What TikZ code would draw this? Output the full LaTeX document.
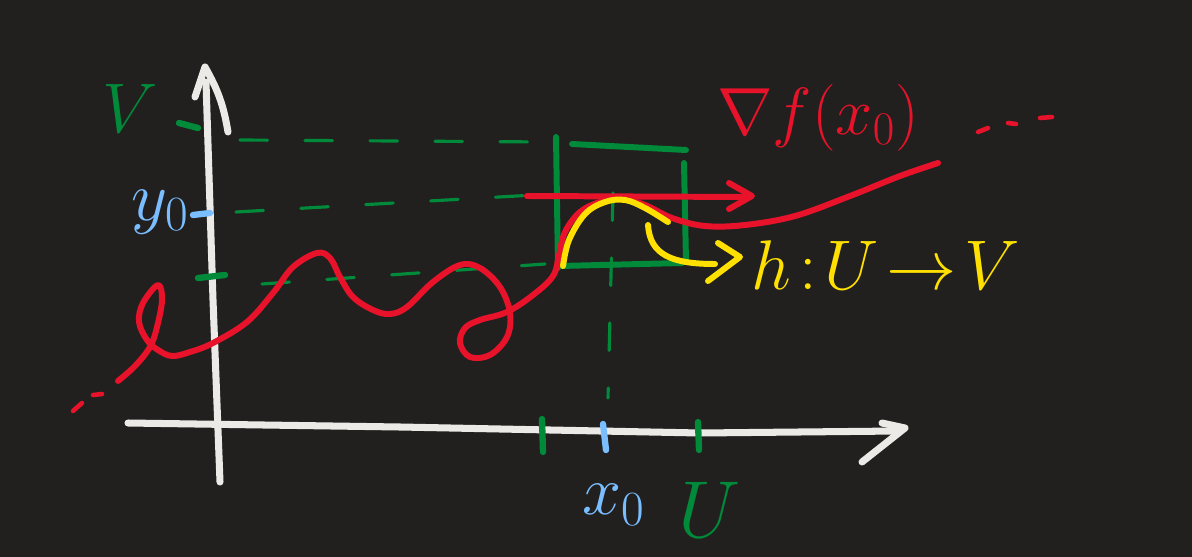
\RequirePackage{fix-cm}
\documentclass[tikz,border=0pt]{standalone}
\usepackage{amsmath}
\definecolor{board}{RGB}{33, 32, 31}
\definecolor{chalk}{RGB}{236, 234, 230}
\definecolor{inkRed}{RGB}{232, 19, 42}
\definecolor{inkGreen}{RGB}{0, 138, 58}
\definecolor{inkBlue}{RGB}{122, 190, 255}
\definecolor{inkYellow}{RGB}{255, 224, 0}
\usetikzlibrary{calc}

\begin{document}
\begin{tikzpicture}[x=0.02cm, y=-0.02cm, line cap=round, line join=round,
    axispen/.style={chalk, line width=4pt},
    redpen/.style={inkRed, line width=3.4pt},
    greenpen/.style={inkGreen, line width=3.4pt},
    guide/.style={inkGreen, line width=1.8pt, dash pattern=on 0.55cm off 0.75cm},
    yellowpen/.style={inkYellow, line width=3.4pt},
    tickpen/.style={line width=3.6pt}]
                \fill[board] (0,0) rectangle (1192,557);
                \useasboundingbox (0,0) rectangle (1192,557);

                % axes, arrow heads drawn as two strokes
                \draw[axispen] (220,482) -- (213,300) -- (206,82);
                \draw[axispen] (195,97) -- (205,67) to[bend left=10] (228,132);
                \draw[axispen] (128,423) -- (400,427) -- (700,433) -- (898,431);
                \draw[axispen] (882,423) -- (905,428) -- (862,462);

                % ticks on the axes
                \draw[inkGreen, tickpen] (179,123) -- (198,128);
                \draw[inkBlue, tickpen] (193,215) -- (210,213);
                \draw[inkGreen, tickpen] (198,278) -- (225,275);
                \draw[inkGreen, tickpen] (542,419) -- (543,452);
                \draw[inkBlue, tickpen] (603,424) -- (606,450);
                \draw[inkGreen, tickpen] (698,422) -- (699,450);

                % dashed guide lines
                \draw[guide] (240,140) -- (548,142);
                \draw[guide] (236,212) -- (552,194);
                \draw[guide] (262,284) -- (545,264);
                \draw[guide] (613,193) -- (608,398);

                % the box U x V
                \draw[greenpen] (556,137) -- (558,268);
                \draw[greenpen] (572,144) -- (686,150);
                \draw[greenpen] (684,163) -- (686,262);
                \draw[greenpen] (560,266) -- (682,263);

                % level curve
                \draw[redpen] plot[smooth, tension=0.6] coordinates {
                    (118,381) (135,366) (150,347) (157,327) (162,300) (158,285)
                    (143,303) (139,322) (147,340) (158,350) (172,356) (190,352)
                    (213,343) (247,322) (273,293) (293,267) (317,253) (330,258)
                    (340,277) (353,297) (373,310) (390,314) (407,307) (433,282)
                    (460,265) (480,268) (500,287) (510,313) (507,337) (490,355)
                    (470,357) (460,343) (465,328) (480,320) (507,312) (533,295)
                    (553,276) (559,255) (565,232) (580,212) (600,202) (622,199)
                    (645,205) (672,218) (705,226) (745,225) (795,216) (850,196)
                    (900,176) (938,163)};
                \draw[redpen, line width=2.6pt] (73,411) -- (82,403);
                \draw[redpen, line width=2.6pt] (93,395) -- (102,394);
                \draw[redpen, line width=2.6pt] (978,132) -- (988,128);
                \draw[redpen, line width=2.6pt] (1008,123) -- (1016,124);
                \draw[redpen, line width=2.6pt] (1040,118) -- (1052,117);

                % gradient arrow
                \draw[redpen] (527,196) -- (745,197);
                \draw[redpen] (729,183) -- (752,196) -- (729,209);

                % local graph h and its pointer
                \draw[yellowpen] plot[smooth, tension=0.6] coordinates {
                    (563,266) (569,240) (585,214) (605,202) (625,200) (645,208)
                    (668,222)};
                \draw[yellowpen] (648,225) .. controls (650,255) and (672,264) .. (715,264);
                \draw[yellowpen] (718,243) -- (740,257) -- (708,281);

                % labels
                \node[inkGreen, font=\fontsize{40}{46}\selectfont] (Vlab) at (130,108) {$V$};
                \node[inkBlue, font=\fontsize{40}{46}\selectfont] (ylab) at (160,212) {$y_0$};
                \node[inkBlue, font=\fontsize{40}{46}\selectfont] (xlab) at (614,505) {$x_0$};
                \node[inkGreen, font=\fontsize{46}{52}\selectfont] (Ulab) at (710,510) {$U$};
                \node[inkRed, font=\fontsize{38}{44}\selectfont] (gradlab) at (818,118) {$\nabla f(x_0)$};
                \node[inkYellow, font=\fontsize{40}{46}\selectfont] (hlab) at (886,265) {$h\!:\!U\!\to\!V$};
            \end{tikzpicture}
\end{document}
